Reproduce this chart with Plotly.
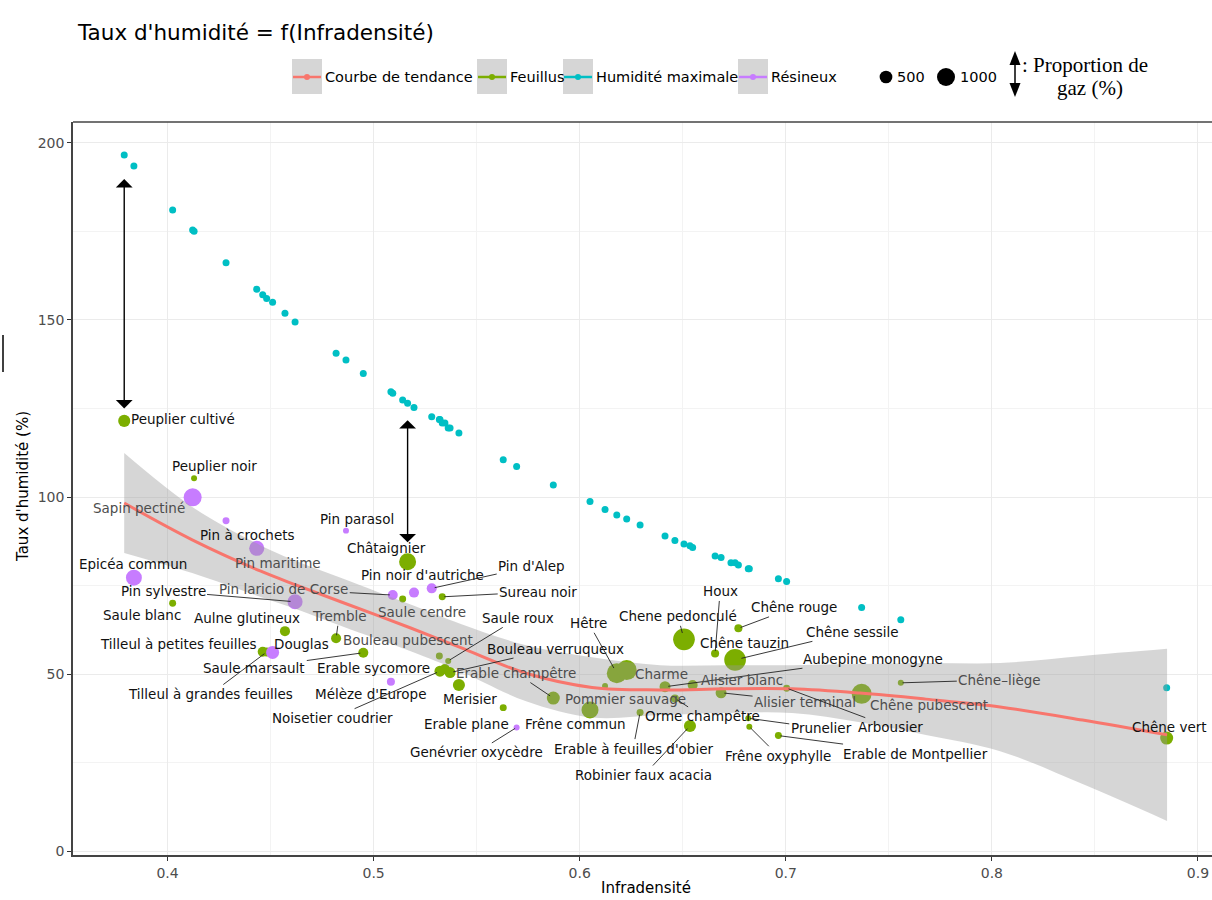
import numpy as np
import plotly.graph_objects as go

# ---------------------------------------------------------------- données
essences = [
    "Peuplier cultivé", "Epicéa commun", "Saule blanc", "Sapin pectiné", "Peuplier noir",
    "Pin à crochets", "Pin maritime", "Tilleul à petites feuilles", "Tilleul à grandes feuilles", "Douglas",
    "Aulne glutineux", "Pin sylvestre", "Tremble", "Pin parasol", "Saule marsault",
    "Mélèze d'Europe", "Pin laricio de Corse", "Saule cendre", "Châtaignier", "Pin noir d'autriche",
    "Pin d'Alep", "Bouleau pubescent", "Noisetier coudrier", "Sureau noir", "Erable sycomore",
    "Saule roux", "Bouleau verruqueux", "Merisier", "Erable plane", "Genévrier oxycèdre",
    "Erable champêtre", "Frêne commun", "Pommier sauvage", "Hêtre", "Charme",
    "Erable à feuilles d'obier", "Aubepine monogyne", "Orme champêtre", "Chene pedonculé", "Robinier faux acacia",
    "Alisier blanc", "Houx", "Alisier terminal", "Chêne tauzin", "Chêne sessile",
    "Chêne rouge", "Prunelier", "Frêne oxyphylle", "Erable de Montpellier", "Arbousier",
    "Chêne pubescent", "Chêne–liège", "Chêne vert",
]
groupes = [
    "Feuillus", "Résineux", "Feuillus", "Résineux", "Feuillus",
    "Résineux", "Résineux", "Feuillus", "Feuillus", "Résineux",
    "Feuillus", "Résineux", "Feuillus", "Résineux", "Feuillus",
    "Résineux", "Résineux", "Feuillus", "Feuillus", "Résineux",
    "Résineux", "Feuillus", "Feuillus", "Feuillus", "Feuillus",
    "Feuillus", "Feuillus", "Feuillus", "Feuillus", "Résineux",
    "Feuillus", "Feuillus", "Feuillus", "Feuillus", "Feuillus",
    "Feuillus", "Feuillus", "Feuillus", "Feuillus", "Feuillus",
    "Feuillus", "Feuillus", "Feuillus", "Feuillus", "Feuillus",
    "Feuillus", "Feuillus", "Feuillus", "Feuillus", "Feuillus",
    "Feuillus", "Feuillus", "Feuillus",
]
infradensite = [
    0.3790, 0.3837, 0.4025, 0.4122, 0.4129,
    0.4284, 0.4433, 0.4462, 0.4481, 0.4510,
    0.4570, 0.4619, 0.4818, 0.4866, 0.4950,
    0.5084, 0.5093, 0.5141, 0.5165, 0.5196,
    0.5282, 0.5319, 0.5322, 0.5333, 0.5346,
    0.5362, 0.5371, 0.5414, 0.5629, 0.5694,
    0.5872, 0.6050, 0.6123, 0.6180, 0.6228,
    0.6293, 0.6414, 0.6462, 0.6506, 0.6535,
    0.6548, 0.6657, 0.6686, 0.6734, 0.6754,
    0.6770, 0.6818, 0.6823, 0.6964, 0.7004,
    0.7368, 0.7558, 0.8848,
]
humidite = [
    121.5, 77.2, 70.0, 99.9, 105.3,
    93.3, 85.5, 56.3, 56.2, 56.1,
    62.1, 70.4, 60.1, 90.5, 56.0,
    47.8, 72.3, 71.2, 81.7, 73.0,
    74.2, 55.1, 50.8, 71.8, 51.4,
    53.7, 50.4, 46.9, 40.5, 34.9,
    43.2, 39.8, 46.6, 50.2, 51.1,
    39.1, 46.4, 43.1, 59.8, 35.3,
    46.9, 55.8, 44.7, 54.8, 54.0,
    62.9, 37.5, 35.1, 32.6, 46.0,
    44.4, 47.5, 31.9,
]
humidite_max = [
    196.6, 193.5, 181.1, 175.4, 175.1,
    166.2, 158.7, 157.1, 156.1, 155.0,
    151.9, 149.4, 140.6, 138.7, 134.9,
    129.7, 129.3, 127.4, 126.5, 125.3,
    122.7, 121.9, 121.9, 120.9, 120.9,
    119.5, 119.5, 118.1, 110.5, 108.6,
    103.4, 98.7, 96.5, 94.9, 93.8,
    92.1, 89.0, 87.7, 86.7, 86.2,
    85.7, 83.3, 82.9, 81.4, 81.4,
    80.8, 79.7, 79.7, 76.9, 76.1,
    68.8, 65.3, 46.1,
]
proportion_gaz = [
    450, 780, 150, 1000, 110,
    150, 700, 310, 250, 520,
    310, 700, 310, 110, 310,
    200, 310, 150, 890, 310,
    310, 150, 370, 150, 310,
    110, 370, 450, 150, 110,
    520, 890, 110, 1230, 1230,
    150, 370, 200, 1450, 450,
    310, 200, 370, 200, 1450,
    200, 110, 110, 150, 150,
    1230, 110, 520,
]

# courbe de tendance (loess) et son intervalle
tendance_x = [0.379, 0.412, 0.445, 0.463, 0.485, 0.518, 0.542, 0.574, 0.606,
              0.639, 0.671, 0.703, 0.736, 0.768, 0.804, 0.844, 0.885]
tendance_y = [98.3, 87.9, 79.1, 75.0, 70.2, 63.0, 57.5, 50.2, 46.2,
              45.5, 45.8, 45.8, 44.6, 42.9, 40.7, 37.0, 32.8]
tendance_haut = [112.4, 97.2, 86.4, 81.8, 77.0, 69.6, 64.2, 58.1, 54.7,
                 52.5, 52.5, 52.5, 52.8, 53.1, 53.1, 55.1, 57.1]
tendance_bas = [84.2, 78.5, 71.8, 68.2, 63.4, 56.4, 50.8, 42.3, 37.7,
                38.4, 39.0, 39.0, 36.4, 32.8, 28.2, 18.9, 8.5]

x_ticks = [0.4, 0.5, 0.6, 0.7, 0.8, 0.9]
y_ticks = [0, 50, 100, 150, 200]
legende_tailles = [500, 1000]
series_legende = ["Courbe de tendance", "Feuillus", "Humidité maximale", "Résineux"]

# ---------------------------------------------------------------- mise en page
# le panneau se prolonge au-delà du bord droit de la fenêtre (1212 px), comme la capture d'origine
W, H = 1232, 900
ML, MR, MT, MB = 73, 0, 122, 45
PW, PH = W - ML - MR, H - MT - MB
X_RANGE = [0.35415, 0.91650]
Y_RANGE = [-1.13, 205.93]

COUL = {"Courbe de tendance": "#F8766D", "Feuillus": "#7CAE00",
        "Humidité maximale": "#00BFC4", "Résineux": "#C77CFF"}
FONT = "DejaVu Sans"


def diametre(v):
    return 0.57 * np.sqrt(np.asarray(v, dtype=float))


def pxx(px):
    return (px - ML) / PW


def pxy(py):
    return (H - MB - py) / PH


# placement des étiquettes (décalage en pixels depuis le point, segment oui/non)
placement = [
    (59, -2, 0), (-1, -14, 0), (-31, 12, 0), (-54, 11, 0), (20, -12, 0),
    (21, 14, 0), (21, 15, 0), (-84, -8, 0), (-56, 42, 1), (29, -8, 0),
    (-38, -13, 0), (-132, -11, 1), (3, -22, 1), (11, -12, 0), (-109, 15, 1),
    (-20, 12, 0), (-109, -6, 1), (19, 13, 0), (-21, -14, 0), (9, -18, 0),
    (100, -22, 1), (-31, -16, 0), (-107, 47, 1), (96, -5, 1), (-71, -1, 0),
    (70, -43, 1), (105, -24, 1), (11, 14, 0), (-37, 16, 0), (-40, 25, 1),
    (-37, -25, 1), (-15, 14, 0), (20, 13, 0), (-28, -50, 1), (35, 4, 0),
    (-7, 36, 1), (208, -28, 1), (28, 18, 1), (-6, -23, 1), (-46, 49, 1),
    (49, -5, 0), (5, -62, 1), (84, 9, 1), (14, -14, 0), (117, -28, 1),
    (56, -21, 1), (73, 10, 1), (29, 29, 1), (137, 18, 1), (104, 39, 1),
    (67, 11, 0), (99, -3, 1), (3, -11, 0),
]
sous_ruban = {"Sapin pectiné", "Pin maritime", "Tremble", "Pin laricio de Corse", "Saule cendre",
              "Bouleau pubescent", "Erable champêtre", "Pommier sauvage", "Charme",
              "Alisier blanc", "Alisier terminal", "Chêne pubescent", "Chêne–liège"}
# flèches d'écart humidité / humidité maximale : (essence, retrait haut, retrait bas)
fleches = [("Peuplier cultivé", 24, 11), ("Châtaignier", 17, 18)]

x = np.array(infradensite)
y = np.array(humidite)
ym = np.array(humidite_max)
g = np.array(groupes)
taille = diametre(proportion_gaz)

fig = go.Figure()

fig.add_trace(go.Scatter(x=x, y=ym, mode="markers", hoverinfo="skip", showlegend=False,
                         marker=dict(color=COUL["Humidité maximale"], size=7, line=dict(width=0))))
for grp in ["Feuillus", "Résineux"]:
    m = g == grp
    fig.add_trace(go.Scatter(x=x[m], y=y[m], mode="markers", hoverinfo="skip", showlegend=False,
                             marker=dict(color=COUL[grp], size=taille[m], sizemode="diameter",
                                         opacity=1, line=dict(width=0))))

fig.add_trace(go.Scatter(x=tendance_x, y=tendance_haut, mode="lines", hoverinfo="skip",
                         showlegend=False, line=dict(width=0, shape="spline", color="rgba(0,0,0,0)")))
fig.add_trace(go.Scatter(x=tendance_x, y=tendance_bas, mode="lines", hoverinfo="skip",
                         showlegend=False, fill="tonexty", fillcolor="rgba(153,153,153,0.4)",
                         line=dict(width=0, shape="spline", color="rgba(0,0,0,0)")))
fig.add_trace(go.Scatter(x=tendance_x, y=tendance_y, mode="lines", hoverinfo="skip",
                         showlegend=False,
                         line=dict(width=3, shape="spline", color=COUL["Courbe de tendance"])))

annotations = []
for i, nom in enumerate(essences):
    dx, dy, seg = placement[i]
    col = "#4d4d4d" if nom in sous_ruban else "#111111"
    base = dict(x=x[i], y=y[i], xref="x", yref="y", text=nom,
                font=dict(family=FONT, size=13.5, color=col))
    if seg:
        base.update(showarrow=True, ax=dx, ay=dy, arrowhead=0, arrowwidth=0.9,
                    arrowcolor="#222222", standoff=taille[i] * 0.3, borderpad=1)
    else:
        base.update(showarrow=False, xshift=dx, yshift=-dy)
    annotations.append(base)

for nom, r_haut, r_bas in fleches:
    i = essences.index(nom)
    annotations.append(dict(x=x[i], y=ym[i], ax=x[i], ay=y[i], xref="x", yref="y",
                            axref="x", ayref="y", text="", showarrow=True,
                            arrowside="end+start", arrowhead=1, startarrowhead=1,
                            arrowsize=2.0, startarrowsize=2.0, arrowwidth=1.4,
                            arrowcolor="black", standoff=r_haut, startstandoff=r_bas))

# titre et titres d'axes
annotations.append(dict(xref="paper", yref="paper", x=pxx(75), y=pxy(32), xanchor="left",
                        yanchor="middle", showarrow=False, text="Taux d'humidité = f(Infradensité)",
                        font=dict(family=FONT, size=21.5, color="black")))
annotations.append(dict(xref="paper", yref="paper", x=pxx(646), y=pxy(899), xanchor="center",
                        yanchor="bottom", showarrow=False, text="Infradensité",
                        font=dict(family=FONT, size=15, color="black")))
annotations.append(dict(xref="paper", yref="paper", x=pxx(23), y=pxy(487), xanchor="center",
                        yanchor="middle", showarrow=False, text="Taux d'humidité (%)", textangle=-90,
                        font=dict(family=FONT, size=15, color="black")))

shapes = []
# bord supérieur du panneau
shapes.append(dict(type="line", xref="paper", yref="paper", x0=0, x1=1, y0=1, y1=1,
                   line=dict(color="#444444", width=1.5)))
# légende des couleurs
cles_gauche = [292, 477, 563, 738]
for nom, gx in zip(series_legende, cles_gauche):
    shapes.append(dict(type="rect", xref="paper", yref="paper", x0=pxx(gx), x1=pxx(gx + 30),
                       y0=pxy(94), y1=pxy(59), fillcolor="#D6D6D6", line=dict(width=0)))
    shapes.append(dict(type="line", xref="paper", yref="paper", x0=pxx(gx + 1), x1=pxx(gx + 29),
                       y0=pxy(77), y1=pxy(77), line=dict(color=COUL[nom], width=2.5)))
    shapes.append(dict(type="circle", xref="paper", yref="paper", x0=pxx(gx + 12), x1=pxx(gx + 18),
                       y0=pxy(80), y1=pxy(74), fillcolor=COUL[nom], line=dict(width=0)))
    annotations.append(dict(xref="paper", yref="paper", x=pxx(gx + 31), y=pxy(77), xanchor="left",
                            yanchor="middle", showarrow=False, text=nom,
                            font=dict(family=FONT, size=14.5, color="black")))
# légende des tailles
centres = [886, 946]
for v, cx in zip(legende_tailles, centres):
    r = float(diametre(v)) / 2
    shapes.append(dict(type="circle", xref="paper", yref="paper", x0=pxx(cx - r), x1=pxx(cx + r),
                       y0=pxy(77 + r), y1=pxy(77 - r), fillcolor="black", line=dict(width=0)))
    annotations.append(dict(xref="paper", yref="paper", x=pxx(cx + r + 3), y=pxy(77), xanchor="left",
                            yanchor="middle", showarrow=False, text=str(v),
                            font=dict(family=FONT, size=14.5, color="black")))
# flèche double de la légende
ax0 = 1015
shapes.append(dict(type="line", xref="paper", yref="paper", x0=pxx(ax0), x1=pxx(ax0),
                   y0=pxy(62), y1=pxy(86), line=dict(color="black", width=1.5)))
shapes.append(dict(type="path", xref="paper", yref="paper", fillcolor="black", line=dict(width=0),
                   path=f"M {pxx(ax0-5.5)},{pxy(65)} L {pxx(ax0+5.5)},{pxy(65)} L {pxx(ax0)},{pxy(51)} Z"))
shapes.append(dict(type="path", xref="paper", yref="paper", fillcolor="black", line=dict(width=0),
                   path=f"M {pxx(ax0-5.5)},{pxy(83)} L {pxx(ax0+5.5)},{pxy(83)} L {pxx(ax0)},{pxy(97)} Z"))
annotations.append(dict(xref="paper", yref="paper", x=pxx(1020), y=pxy(65), xanchor="left",
                        yanchor="middle", showarrow=False, text=": Proportion de",
                        font=dict(family="Liberation Serif", size=21, color="black")))
annotations.append(dict(xref="paper", yref="paper", x=pxx(1090), y=pxy(88), xanchor="center",
                        yanchor="middle", showarrow=False, text="gaz (%)",
                        font=dict(family="Liberation Serif", size=21, color="black")))
# petit trait vertical à gauche
shapes.append(dict(type="line", xref="paper", yref="paper", x0=pxx(3), x1=pxx(3),
                   y0=pxy(335), y1=pxy(372), line=dict(color="black", width=1.5)))

axe_commun = dict(showline=True, linecolor="#444444", linewidth=1.5, ticks="outside", ticklen=4,
                  tickcolor="#333333", tickwidth=1, showgrid=True, gridcolor="#EBEBEB", gridwidth=1.1,
                  zeroline=False, mirror=False, tickfont=dict(family=FONT, size=14, color="#4d4d4d"))
fig.update_layout(
    width=W, height=H, margin=dict(l=ML, r=MR, t=MT, b=MB, pad=0),
    paper_bgcolor="white", plot_bgcolor="white", hovermode=False, showlegend=False,
    xaxis=dict(range=X_RANGE, tickvals=x_ticks, ticktext=[f"{t:.1f}" for t in x_ticks],
               minor=dict(showgrid=True, gridcolor="#F3F3F3", gridwidth=0.8, dtick=0.05, tick0=0.35,
                          ticks=""),
               **axe_commun),
    yaxis=dict(range=Y_RANGE, tickvals=y_ticks, ticktext=[str(t) for t in y_ticks],
               minor=dict(showgrid=True, gridcolor="#F3F3F3", gridwidth=0.8, dtick=25, tick0=0,
                          ticks=""),
               **axe_commun),
    annotations=annotations, shapes=shapes,
)

fig.write_html("out.html", config={"displayModeBar": False},
               post_script="document.body.style.margin='0';document.body.style.overflow='hidden';")
